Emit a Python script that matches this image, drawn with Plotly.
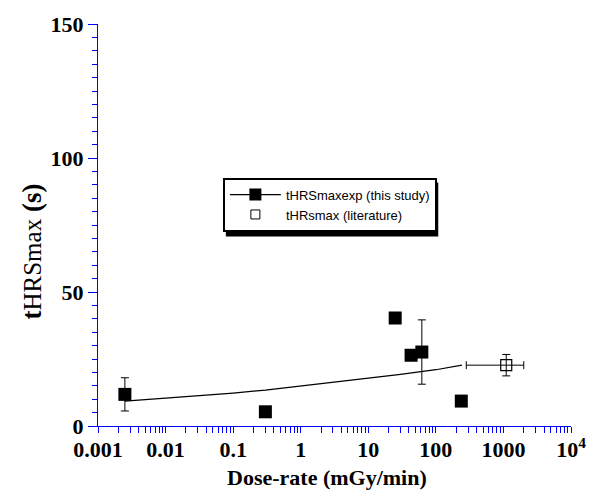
import plotly.graph_objects as go

# ---- data ----
dose_exp = [0.0025, 0.3, 25, 43, 62, 238]
t_exp = [11.8, 5.3, 40.3, 26.4, 27.6, 9.3]
t_exp_err = [6.2, 0, 0, 0, 12, 0]

fit_dose = [0.0025, 0.01, 0.03, 0.1, 0.3, 1, 3, 10, 30, 100, 243]
fit_t = [9.3, 10.4, 11.3, 12.3, 13.4, 14.9, 16.2, 17.7, 19.3, 21.0, 22.7]

dose_lit = [1100]
t_lit = [22.7]
t_lit_err = [4.0]
dose_lit_err_plus = [900]
dose_lit_err_minus = [818]

x_major = [0.001, 0.01, 0.1, 1, 10, 100, 1000, 10000]
x_major_text = ["0.001", "0.01", "0.1", "1", "10", "100", "1000", "10<sup>4</sup>"]
y_major = [0, 50, 100, 150]

legend_names = ["tHRSmaxexp (this study)", "tHRsmax (literature)"]
x_title = "Dose-rate (mGy/min)"

# minor tick positions for the log axis (2..9 in each decade)
x_ticks = []
x_texts = []
for i, v in enumerate(x_major):
    x_ticks.append(v)
    x_texts.append(x_major_text[i])
    if i < len(x_major) - 1:
        for m in range(2, 10):
            x_ticks.append(v * m)
            x_texts.append("")

W, H = 598, 499
L, R, T, B = 98, 579, 23, 426


def px(x):
    return (x - L) / (R - L)


def py(y):
    return (B - y) / (B - T)


fig = go.Figure()

# fitted line
fig.add_trace(go.Scatter(x=fit_dose, y=fit_t, mode="lines",
                         line=dict(color="black", width=1.2),
                         showlegend=False, hoverinfo="skip"))

# experimental points
fig.add_trace(go.Scatter(
    x=dose_exp, y=t_exp, mode="markers",
    marker=dict(symbol="square", size=13, color="black"),
    error_y=dict(type="data", array=t_exp_err, color="black", thickness=1, width=4),
    showlegend=False))

# literature point
fig.add_trace(go.Scatter(
    x=dose_lit, y=t_lit, mode="markers",
    marker=dict(symbol="square-open", size=11, color="black", line=dict(width=1.2)),
    error_y=dict(type="data", array=t_lit_err, color="black", thickness=1, width=4),
    error_x=dict(type="data", array=dose_lit_err_plus, arrayminus=dose_lit_err_minus,
                 color="black", thickness=1, width=4),
    showlegend=False))

# legend entries
fig.add_trace(go.Scatter(x=[None], y=[None], mode="lines+markers", name=legend_names[0],
                         line=dict(color="black", width=1.2),
                         marker=dict(symbol="square", size=12, color="black")))
fig.add_trace(go.Scatter(x=[None], y=[None], mode="markers", name=legend_names[1],
                         marker=dict(symbol="square-open", size=9, color="black",
                                     line=dict(width=1))))

axis_blue = "#0000ff"
serif = "Liberation Serif, Times New Roman, serif"

fig.update_xaxes(
    type="log", range=[-3, 4],
    tickmode="array", tickvals=x_ticks, ticktext=x_texts,
    ticks="outside", ticklen=6, tickwidth=1, tickcolor=axis_blue,
    ticklabelstandoff=-2,
    showline=True, linecolor=axis_blue, linewidth=1,
    showgrid=False, zeroline=False,
    tickfont=dict(family=serif, size=22, color="black", weight="bold"),
)
fig.update_yaxes(
    range=[0, 150], tickmode="array", tickvals=y_major,
    ticks="outside", ticklen=9, tickwidth=1, tickcolor=axis_blue,
    minor=dict(ticks="outside", ticklen=5, tickwidth=1, tickcolor=axis_blue, dtick=5, showgrid=False),
    showline=True, linecolor=axis_blue, linewidth=1,
    showgrid=False, zeroline=False,
    tickfont=dict(family=serif, size=22, color="black", weight="bold"),
)

# legend shadow (offset bottom-right of the legend box)
fig.add_shape(type="rect", xref="paper", yref="paper",
              x0=px(228), x1=px(444), y0=py(236), y1=py(182),
              fillcolor="black", line=dict(width=0), layer="above")

fig.update_layout(
    width=W, height=H,
    margin=dict(l=L, r=W - R, t=T, b=H - B),
    plot_bgcolor="white", paper_bgcolor="white",
    legend=dict(x=px(225), y=py(177), xanchor="left", yanchor="top",
                bgcolor="white", bordercolor="black", borderwidth=2,
                font=dict(family="Liberation Sans, Arial, sans-serif", size=13, color="black"),
                tracegroupgap=0, itemsizing="trace", itemwidth=51),
    annotations=[
        dict(text=x_title, xref="paper", yref="paper", x=px(331), y=py(478),
             showarrow=False, xanchor="center", yanchor="middle",
             font=dict(family=serif, size=22, color="black", weight="bold")),
        dict(text="<b>t</b><span style='font-size:25px;font-weight:normal'>HRSmax</span><b> (s)</b>",
             xref="paper", yref="paper", x=px(31), y=py(251), textangle=-90,
             showarrow=False, xanchor="center", yanchor="middle",
             font=dict(family=serif, size=27, color="black")),
    ],
)

fig.write_html("out.html", post_script="document.body.style.margin='0px';",
               config={"displayModeBar": False})
